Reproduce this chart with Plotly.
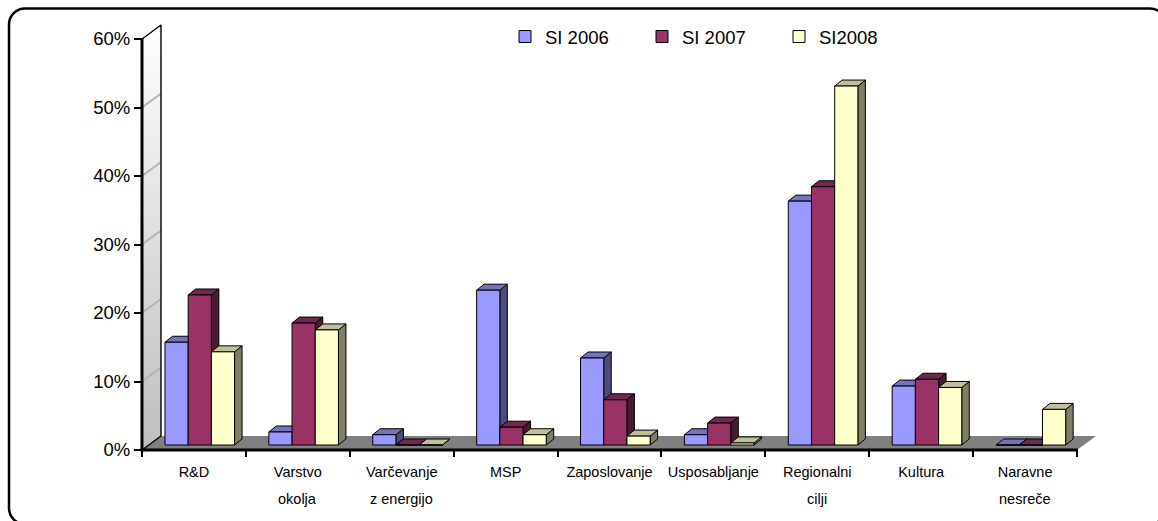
import plotly.graph_objects as go

W, H = 1158, 521
L, B = 142, 450           # front corner of the chart box
AX_R, AX_T = 1077, 39     # end of the category axis, top of the value axis

categories = ["R&D", "Varstvo", "Varčevanje", "MSP", "Zaposlovanje", "Usposabljanje", "Regionalni", "Kultura", "Naravne"]
second_lines = ["", "okolja", "z energijo", "", "", "", "cilji", "", "nesreče"]
si_2006 = [15.0, 1.9, 1.5, 22.6, 12.7, 1.5, 35.6, 8.6, 0.0]
si_2007 = [21.9, 17.8, 0.0, 2.6, 6.6, 3.2, 37.7, 9.6, 0.0]
si_2008 = [13.6, 16.8, 0.0, 1.5, 1.3, 0.3, 52.4, 8.4, 5.2]
series_names = ["SI 2006", "SI 2007", "SI2008"]
y_ticks = [0, 10, 20, 30, 40, 50, 60]
y_tick_labels = ["0%", "10%", "20%", "30%", "40%", "50%", "60%"]

FRONT = ["#9999FF", "#993366", "#FFFFCC"]
TOP = ["#7373BF", "#732650", "#BFBF99"]
SIDE = ["#4C4C7F", "#4C1933", "#7F7F66"]

ux = (AX_R - L) / 9         # px per category
uy = (B - AX_T) / 60        # px per percent
depth_px_x, depth_px_y = 19, 14
R, T = AX_R + depth_px_x + 1, AX_T - depth_px_y - 1   # plot area also holds the receding wall and floor
floor_dx, floor_dy = depth_px_x / ux, depth_px_y / uy
bar_shift_y = 5 / uy        # bars stand 5 px behind the front edge of the floor
bar_dx, bar_dy = 7.5 / ux, 6 / uy
bar_w = 23.2 / ux
offsets = [-0.279, -0.279 + bar_w, -0.279 + 2 * bar_w]

xl, xr = -0.5, 8.5
x_range = [xl, xl + (R - L) / ux]
y_range = [0, (B - T) / uy]


def px(x):
    return (x - L) / (R - L)


def py(y):
    return (B - y) / (B - T)


fig = go.Figure()

# wall
fig.add_trace(go.Scatter(
    x=[xl, xl + floor_dx, xl + floor_dx, xl, xl], y=[0, floor_dy, 60 + floor_dy, 60, 0],
    mode="lines", line=dict(width=0), fill="toself", showlegend=False, hoverinfo="skip",
    fillgradient=dict(type="vertical", colorscale=[[0, "#BEBEBE"], [1, "#FFFFFF"]]),
))
# floor
fig.add_trace(go.Scatter(
    x=[xl, xl + floor_dx, xr + floor_dx, xr, xl], y=[0, floor_dy, floor_dy, 0, 0],
    mode="lines", line=dict(width=0), fill="toself", fillcolor="#808080",
    showlegend=False, hoverinfo="skip",
))
# grid lines on the wall
gx, gy = [], []
for v in y_ticks[1:-1]:
    gx += [xl, xl + floor_dx, None]
    gy += [v, v + floor_dy, None]
fig.add_trace(go.Scatter(x=gx, y=gy, mode="lines", line=dict(color="#B4B4B4", width=2),
                         showlegend=False, hoverinfo="skip"))
# wall outline
fig.add_trace(go.Scatter(
    x=[xl, xl + floor_dx, xl + floor_dx, None, xl, xl + floor_dx],
    y=[60, 60 + floor_dy, floor_dy, None, 0, floor_dy],
    mode="lines", line=dict(color="black", width=1.4), showlegend=False, hoverinfo="skip",
))

series = [si_2006, si_2007, si_2008]
# side and top faces, on the lower subplot
for s, vals in enumerate(series):
    sx, sy, tx, ty = [], [], [], []
    for i, v in enumerate(vals):
        x0 = i + offsets[s]
        x1 = x0 + bar_w
        top = v + bar_shift_y
        sx += [x1, x1 + bar_dx, x1 + bar_dx, x1, x1, None]
        sy += [bar_shift_y, bar_shift_y + bar_dy, top + bar_dy, top, bar_shift_y, None]
        tx += [x0, x0 + bar_dx, x1 + bar_dx, x1, x0, None]
        ty += [top, top + bar_dy, top + bar_dy, top, top, None]
    fig.add_trace(go.Scatter(x=sx, y=sy, mode="lines", line=dict(color="black", width=1), fill="toself",
                             fillcolor=SIDE[s], showlegend=False, hoverinfo="skip"))
    fig.add_trace(go.Scatter(x=tx, y=ty, mode="lines", line=dict(color="black", width=1), fill="toself",
                             fillcolor=TOP[s], showlegend=False, hoverinfo="skip"))

# front faces, on the overlaid subplot
for s, vals in enumerate(series):
    fig.add_trace(go.Bar(
        x=categories, y=vals, name=series_names[s], xaxis="x2", yaxis="y2",
        offset=offsets[s], width=bar_w,
        marker=dict(color=FRONT[s], line=dict(color="black", width=1)),
    ))

for cat, line2 in zip(categories, second_lines):
    if line2:
        fig.add_annotation(x=cat, xref="x2", y=py(499), yref="paper", text=line2, showarrow=False,
                           font=dict(family="Liberation Sans", size=14.5, color="black"), yanchor="middle")

# outer frame (runs past the right and bottom edges of the picture)
a, b, c, d, r = 9, 1166, 8.5, 524, 16
k = r * 0.45
frame = (f"M{px(a)},{py(c + r)} C{px(a)},{py(c + k)} {px(a + k)},{py(c)} {px(a + r)},{py(c)} "
         f"L{px(b - r)},{py(c)} C{px(b - k)},{py(c)} {px(b)},{py(c + k)} {px(b)},{py(c + r)} "
         f"L{px(b)},{py(d - r)} C{px(b)},{py(d - k)} {px(b - k)},{py(d)} {px(b - r)},{py(d)} "
         f"L{px(a + r)},{py(d)} C{px(a + k)},{py(d)} {px(a)},{py(d - k)} {px(a)},{py(d - r)} Z")

axis_line = dict(color="black", width=3)
fig.update_layout(
    width=W, height=H, autosize=False, paper_bgcolor="white", plot_bgcolor="rgba(0,0,0,0)",
    margin=dict(l=L, r=W - R, t=T, b=H - B),
    barmode="overlay",
    font=dict(family="Liberation Sans", color="black"),
    shapes=[
        dict(type="path", path=frame, xref="paper", yref="paper", line=dict(color="black", width=2.5)),
        dict(type="line", xref="paper", yref="paper", x0=px(L), x1=px(L), y0=py(B + 1.5), y1=py(AX_T - 1), line=axis_line),
        dict(type="line", xref="paper", yref="paper", x0=px(L - 1.5), x1=px(AX_R + 1), y0=py(B), y1=py(B), line=axis_line),
    ],
    xaxis=dict(visible=False, range=x_range, fixedrange=True),
    yaxis=dict(range=y_range, tickvals=y_ticks, ticktext=y_tick_labels, ticks="outside",
               ticklen=7, tickwidth=2, tickcolor="black", showline=False,
               showgrid=False, zeroline=False, tickfont=dict(size=18.5, family="Liberation Sans"), fixedrange=True),
    xaxis2=dict(type="category", overlaying="x", anchor="y2", side="bottom", range=x_range,
                categoryorder="array", categoryarray=categories, tickson="boundaries", ticks="outside",
                ticklen=6, tickwidth=2, tickcolor="black", showline=False,
                showgrid=False, tickangle=0, ticklabelstandoff=11,
                tickfont=dict(size=14.5, family="Liberation Sans"), fixedrange=True),
    yaxis2=dict(overlaying="y", visible=False, range=[y_range[0] - bar_shift_y, y_range[1] - bar_shift_y], fixedrange=True),
    legend=dict(orientation="h", x=px(505), y=py(18), xanchor="left", yanchor="top",
                entrywidth=92, entrywidthmode="pixels", font=dict(size=18.5, family="Liberation Sans"),
                bgcolor="rgba(0,0,0,0)", traceorder="normal"),
)

fig.write_html("out.html", config={"displayModeBar": False},
               post_script="document.body.style.margin='0';document.body.style.overflow='hidden';")
